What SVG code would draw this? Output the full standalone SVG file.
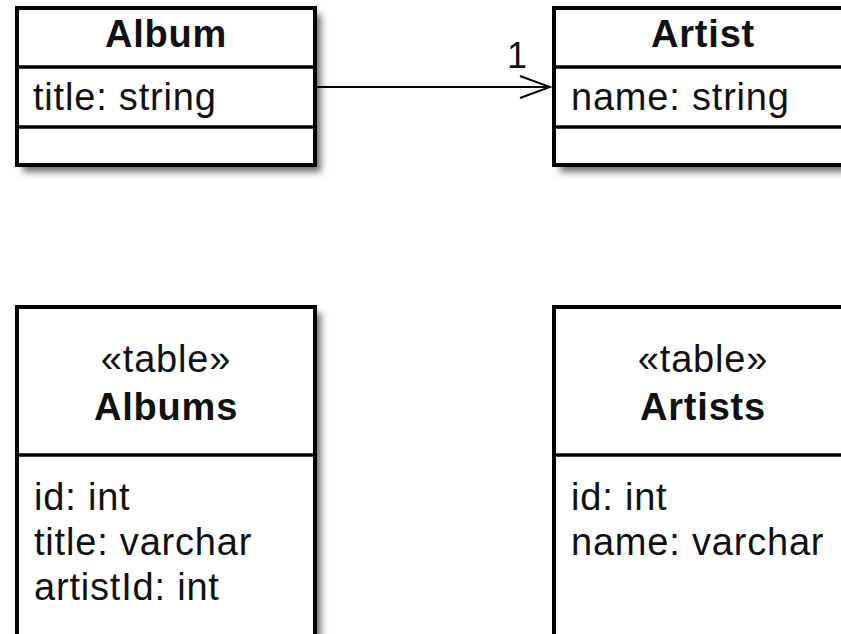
<svg xmlns="http://www.w3.org/2000/svg" width="841" height="634" viewBox="0 0 841 634">
  <style>
    .box { fill: #ffffff; stroke: #000000; stroke-width: 4; }
    .div { stroke: #000000; stroke-width: 3.5; }
    .shadow { fill: #6e6e6e; filter: url(#blur); }
    text { font-family: "Liberation Sans", Arial, sans-serif; font-size: 38px; fill: #111111; letter-spacing: 0.8px; }
    .title { font-weight: bold; text-anchor: middle; }
    .stereo { text-anchor: middle; }
    .conn { stroke: #000000; stroke-width: 2; fill: none; }
  </style>
  <defs>
    <filter id="blur" x="-10%" y="-10%" width="130%" height="130%">
      <feGaussianBlur stdDeviation="3.5"/>
    </filter>
    <marker id="open" markerUnits="userSpaceOnUse" viewBox="0 0 33 24" refX="31" refY="12" markerWidth="33" markerHeight="24" orient="auto">
      <path d="M1,1 L31,12 L1,23" fill="none" stroke="#000" stroke-width="2"/>
    </marker>
  </defs>

  <g id="album">
    <rect class="shadow" x="23" y="14" width="298" height="158"/>
    <rect class="box" x="17" y="8" width="298" height="157"/>
    <line class="div" x1="17" y1="67" x2="315" y2="67"/>
    <line class="div" x1="17" y1="127" x2="315" y2="127"/>
    <text class="title" x="166" y="47">Album</text>
    <text x="33" y="110">title: string</text>
  </g>

  <g id="artist">
    <rect class="shadow" x="560" y="14" width="298" height="158"/>
    <rect class="box" x="554" y="8" width="298" height="157"/>
    <line class="div" x1="554" y1="67" x2="852" y2="67"/>
    <line class="div" x1="554" y1="127" x2="852" y2="127"/>
    <text class="title" x="703" y="47">Artist</text>
    <text x="571" y="110">name: string</text>
  </g>

  <g id="albums">
    <rect class="shadow" x="23" y="313" width="298" height="400"/>
    <rect class="box" x="17" y="307" width="298" height="400"/>
    <line class="div" x1="17" y1="455" x2="315" y2="455"/>
    <text class="stereo" x="166" y="372">«table»</text>
    <text class="title" x="166" y="420">Albums</text>
    <text x="34" y="510">id: int</text>
    <text x="34" y="555">title: varchar</text>
    <text x="34" y="600">artistId: int</text>
  </g>

  <g id="artists">
    <rect class="shadow" x="560" y="313" width="298" height="400"/>
    <rect class="box" x="554" y="307" width="298" height="400"/>
    <line class="div" x1="554" y1="455" x2="852" y2="455"/>
    <text class="stereo" x="703" y="372">«table»</text>
    <text class="title" x="703" y="420">Artists</text>
    <text x="571" y="510">id: int</text>
    <text x="571" y="555">name: varchar</text>
  </g>

  <g id="connectors">
    <line class="conn" x1="317" y1="87" x2="550" y2="87" marker-end="url(#open)"/>
    <text x="507" y="68" style="font-size:36px">1</text>
  </g>
</svg>
